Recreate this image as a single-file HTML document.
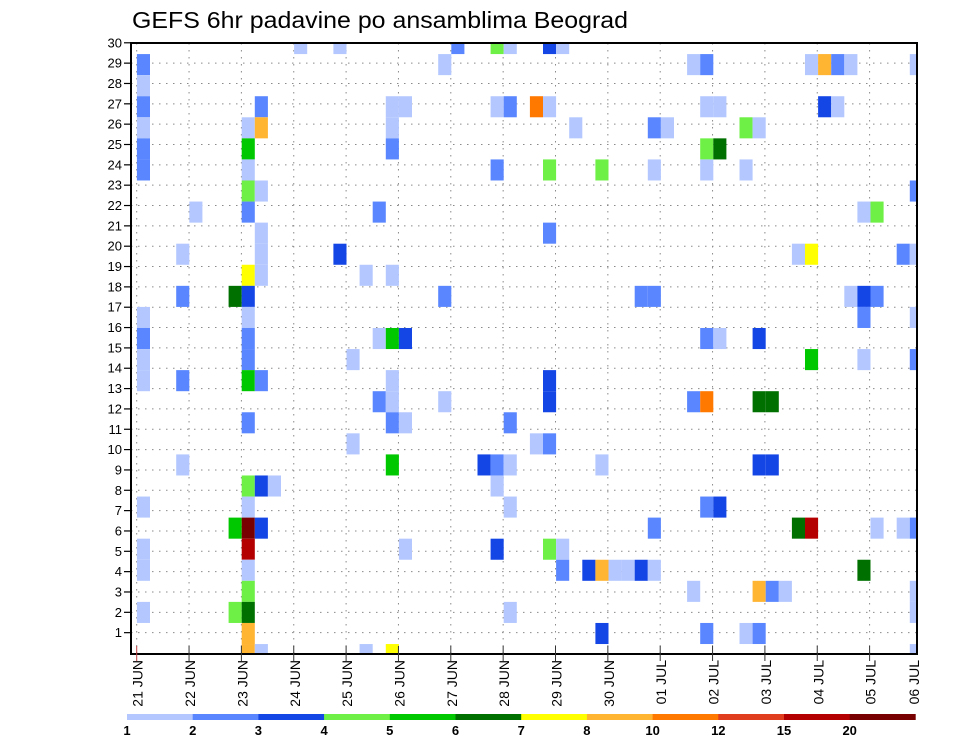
<!DOCTYPE html>
<html><head><meta charset="utf-8"><style>
html,body{margin:0;padding:0;background:#fff;}
svg{display:block;font-family:"Liberation Sans",sans-serif;}
</style></head><body>
<svg id="chart" width="960" height="742" viewBox="0 0 960 742">
<defs><clipPath id="plotclip"><rect x="131" y="43" width="786" height="611"/></clipPath></defs>
<text x="132" y="28" font-size="23" fill="#000" textLength="496" lengthAdjust="spacingAndGlyphs">GEFS 6hr padavine po ansamblima Beograd</text>
<g id="grid"></g>
<g id="cells" clip-path="url(#plotclip)"></g>
<rect x="131" y="43" width="786" height="611" fill="none" stroke="#000" stroke-width="2"/>
<g id="yaxis"></g>
<g id="xaxis"></g>
<g id="legend"></g>
</svg>
<script>
const dayLabels = ["21 JUN","22 JUN","23 JUN","24 JUN","25 JUN","26 JUN","27 JUN","28 JUN","29 JUN","30 JUN","01 JUL","02 JUL","03 JUL","04 JUL","05 JUL","06 JUL"];
const memberLabels = [1,2,3,4,5,6,7,8,9,10,11,12,13,14,15,16,17,18,19,20,21,22,23,24,25,26,27,28,29,30];
const levelLabels = ["1","2","3","4","5","6","7","8","10","12","15","20"];
const levelValues = [1,2,3,4,5,6,7,8,10,12,15,20];
const levelColors = ["#b4c8ff","#5a87ff","#1446e6","#6ef046","#00c800","#007000","#ffff00","#ffb432","#ff7800","#e03c1e","#b40000","#780000"];
// time step index (6h steps from 21 JUN 00z)
const cellTime = [
0,0,0,0,0,0,0,0,0,0,0,0,0,0,
3,3,3,3, 4, 7,7,7,
8,8,8,8,8,8,8,8,8,8,8,8,8,8,8,8,8,8,8,8,8,
9,9,9,9,9,9,9,9,9,9, 10, 12, 15,15, 16,16, 17,17, 18,18,18,
19,19,19,19,19,19,19,19,19,19, 20,20,20,20, 23,23,23, 24, 26,
27,27,27,27,27,27, 28,28,28,28,28,28, 30,30,
31,31,31,31,31,31,31,31, 32,32,32, 33, 34, 35,35,35,35, 36, 37, 38,38,
39,39,39,39,39, 40, 42,42,42, 43,43,43,43,43,43,43,43, 44,44,44,44,
46,46,46, 47,47,47,47,47,47, 48,48,48, 49, 50,50, 51,51,51,51,
52,52, 53,53, 54,54, 55,55,55,55,55, 56,56,56, 58,58,
59,59,59,59,59,59,59,59,59];
// row index from top (0 = top slot)
const cellRow = [
1,2,3,4,5,6,13,14,15,16,22,24,25,27,
10,12,16,20, 8, 12,23,27,
4,5,6,7,8,11,12,13,14,15,16,18,21,22,23,24,25,26,27,28,29,
3,4,7,9,10,11,16,21,23,29, 21, 0, 0,10, 15,19, 11,29, 8,14,17,
3,4,5,11,14,16,17,18,20,29, 3,14,18,24, 1,12,17, 0, 20,
0,3,6,20,21,24, 0,3,18,20,22,27, 3,19,
0,3,6,9,16,17,19,24, 0,24,25, 4, 25, 6,20,25,28, 25, 25, 12,25,
4,6,12,23,25, 4, 1,17,26, 1,3,5,6,14,17,22,28, 3,5,14,22,
4,6,28, 4,14,17,20,26,28, 17,20,26, 26, 10,23, 1,10,15,23,
1,3, 1,3, 1,12, 8,12,13,15,25, 8,12,23, 10,23,
1,7,10,13,15,23,26,27,29];
// precipitation value (mm) per cell
const cellValue = [
2,1,2,1,2,2,1,2,1,1,1,1,1,1,
1,2,2,1, 1, 6,5,4,
1,5,1,4,2,7,3,1,2,2,5,2,4,1,20,15,1,4,6,8,8,
2,8,1,1,1,1,2,3,3,1, 1, 1, 1,3, 1,1, 1,1, 2,1,2,
1,1,2,1,5,1,1,2,5,7, 1,3,1,1, 1,2,1, 2, 3,
4,1,2,2,1,3, 1,2,2,1,1,1, 10,1,
3,1,4,2,3,3,2,4, 1,1,2, 1, 3, 4,1,8,3, 1, 1, 2,3,
2,1,2,2,1, 1, 1,2,1, 2,1,4,1,2,10,2,2, 1,6,1,3,
4,1,1, 1,3,6,3,8,2, 6,3,2, 1, 1,6, 1,7,5,15,
8,3, 2,1, 1,1, 1,3,2,1,6, 4,2,1, 2,1,
1,2,1,1,2,2,1,1,1];

const NS = "http://www.w3.org/2000/svg";
const X0 = 136.9, COLW = 13.1, Y0 = 33, ROWH = 21.07;
function xCell(t){ return X0 + t*COLW; }
function yCell(r){ return Y0 + r*ROWH; }
function xDay(d){ return 136.7 + d*52.35; }
function yMember(m){ return 653 - m*20.34; }
function colorFor(v){ let i=0; for(let k=0;k<levelValues.length;k++){ if(v>=levelValues[k]) i=k; } return levelColors[i]; }
function mk(tag, attrs, parent){ const e=document.createElementNS(NS,tag); for(const a in attrs) e.setAttribute(a,attrs[a]); parent.appendChild(e); return e; }

const grid = document.getElementById('grid');
for (let i=0;i<memberLabels.length-1;i++){
  const y = yMember(memberLabels[i]);
  const l = mk('line',{x1:131,x2:917,y1:y,y2:y,stroke:'#8a8a8a','stroke-width':1,'stroke-dasharray':'1.5,5.5'},grid);
  
  
}
for (let d=0; d<15; d++){
  const x = xDay(d);
  const l = mk('line',{x1:x,x2:x,y1:43,y2:654,stroke:'#8a8a8a','stroke-width':1,'stroke-dasharray':'1.5,5.5'},grid);
  
  
}

const cells = document.getElementById('cells');
for (let i=0;i<cellValue.length;i++){
  const r = mk('rect',{x:xCell(cellTime[i]),y:yCell(cellRow[i]),width:COLW,height:ROWH,fill:colorFor(cellValue[i])},cells);
  
  
}

const yaxis = document.getElementById('yaxis');
for (let i=0;i<memberLabels.length;i++){
  const y = yMember(memberLabels[i]);
  const tk = mk('line',{x1:124,x2:131,y1:y,y2:y,stroke:'#000','stroke-width':1.2},yaxis);
  
  
  const t = mk('text',{x:122,y:y+4.5,'font-size':13,'text-anchor':'end',fill:'#000'},yaxis);
  t.textContent = memberLabels[i];
  
  
}

const xaxis = document.getElementById('xaxis');
for (let d=0; d<dayLabels.length; d++){
  const x = xDay(d);
  if (d<15){
    const tk = mk('line',{x1:x,x2:x,y1:646,y2:661,stroke:d===0?'#c04040':'#333','stroke-width':1},xaxis);
    
    
  }
  const lx = d===15 ? 914 : x+1;
  const t = mk('text',{x:0,y:0,'font-size':14,'text-anchor':'end',fill:'#000',transform:'translate('+(lx+5)+',660) rotate(-90)'},xaxis);
  t.textContent = dayLabels[d];
  
  
}

const legend = document.getElementById('legend');
const LX = 127, LW = 65.7;
for (let i=0;i<levelLabels.length;i++){
  const r = mk('rect',{x:LX+i*LW,y:714,width:LW+0.3,height:6,fill:levelColors[i]},legend);
  
  
  const t = mk('text',{x:LX+i*LW,y:735,'font-size':13,'font-weight':'bold','text-anchor':'middle',fill:'#000'},legend);
  t.textContent = levelLabels[i];
  
  
}
</script>
</body></html>
